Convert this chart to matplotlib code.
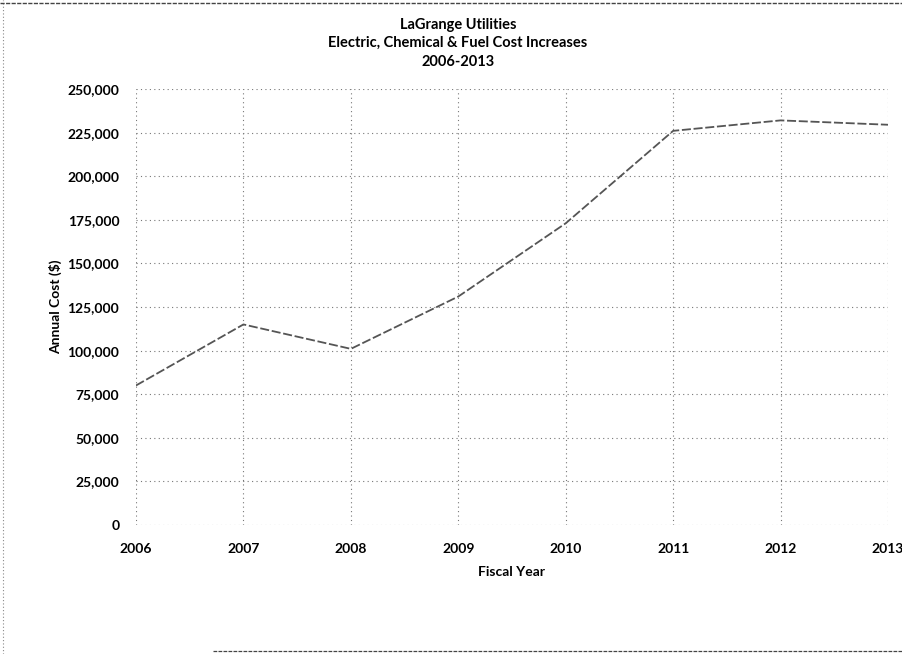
import matplotlib
matplotlib.use("Agg")
import matplotlib.pyplot as plt
from matplotlib.ticker import FuncFormatter, MultipleLocator

years = [2006, 2007, 2008, 2009, 2010, 2011, 2012, 2013]
annual_cost = [80000, 115000, 101000, 131000, 173000, 226000, 232000, 229500]
title_lines = ["LaGrange Utilities", "Electric, Chemical & Fuel Cost Increases", "2006-2013"]

plt.rcParams['font.family'] = ['Lato', 'DejaVu Sans']

W, H = 902, 654
fig = plt.figure(figsize=(W/100, H/100), dpi=100)
L, R, T, B = 136, 888, 89, 525
ax = fig.add_axes([L/W, 1-B/H, (R-L)/W, (B-T)/H])

ax.plot(years, annual_cost, color='#555555', lw=1.3, linestyle=(0, (5, 1.5)))

ax.set_xlim(2006, 2013)
ax.set_ylim(0, 250000)
ax.set_xticks(years)
ax.yaxis.set_major_locator(MultipleLocator(25000))
ax.yaxis.set_major_formatter(FuncFormatter(lambda v, p: f"{int(v):,}"))
ax.grid(True, color='#777777', linestyle=(0, (1, 3)), lw=0.8)
for s in ax.spines.values():
    s.set_visible(False)
ax.tick_params(axis='y', length=0, labelsize=10, pad=12)
ax.tick_params(axis='x', length=0, labelsize=10, pad=13)
for lab in ax.get_xticklabels() + ax.get_yticklabels():
    lab.set_fontweight('bold')
ax.set_xlabel("Fiscal Year", fontsize=10, fontweight='bold', labelpad=8)
ax.set_ylabel("Annual Cost ($)", fontsize=10, fontweight='bold')
ax.yaxis.set_label_coords((62-L)/(R-L), 0.5)

cx = 458/W
fig.text(cx, 1-25/H, title_lines[0], ha='center', va='center', fontsize=10.5, fontweight='bold')
fig.text(cx, 1-43/H, title_lines[1], ha='center', va='center', fontsize=10.5, fontweight='bold')
fig.text(cx, 1-62/H, title_lines[2], ha='center', va='center', fontsize=10.5, fontweight='bold')

# scanned page border fragments
fig.add_artist(plt.Line2D([3/W, 3/W], [0, 1], transform=fig.transFigure, color='#888888', lw=0.8, linestyle=(0, (1, 2))))
fig.add_artist(plt.Line2D([0, 1], [1-3/H, 1-3/H], transform=fig.transFigure, color='#444444', lw=1.0, linestyle=(0, (3, 1))))
fig.add_artist(plt.Line2D([213/W, 1], [1-651/H, 1-651/H], transform=fig.transFigure, color='#444444', lw=0.9, linestyle=(0, (3, 1))))

fig.savefig("out.png", dpi=100)
